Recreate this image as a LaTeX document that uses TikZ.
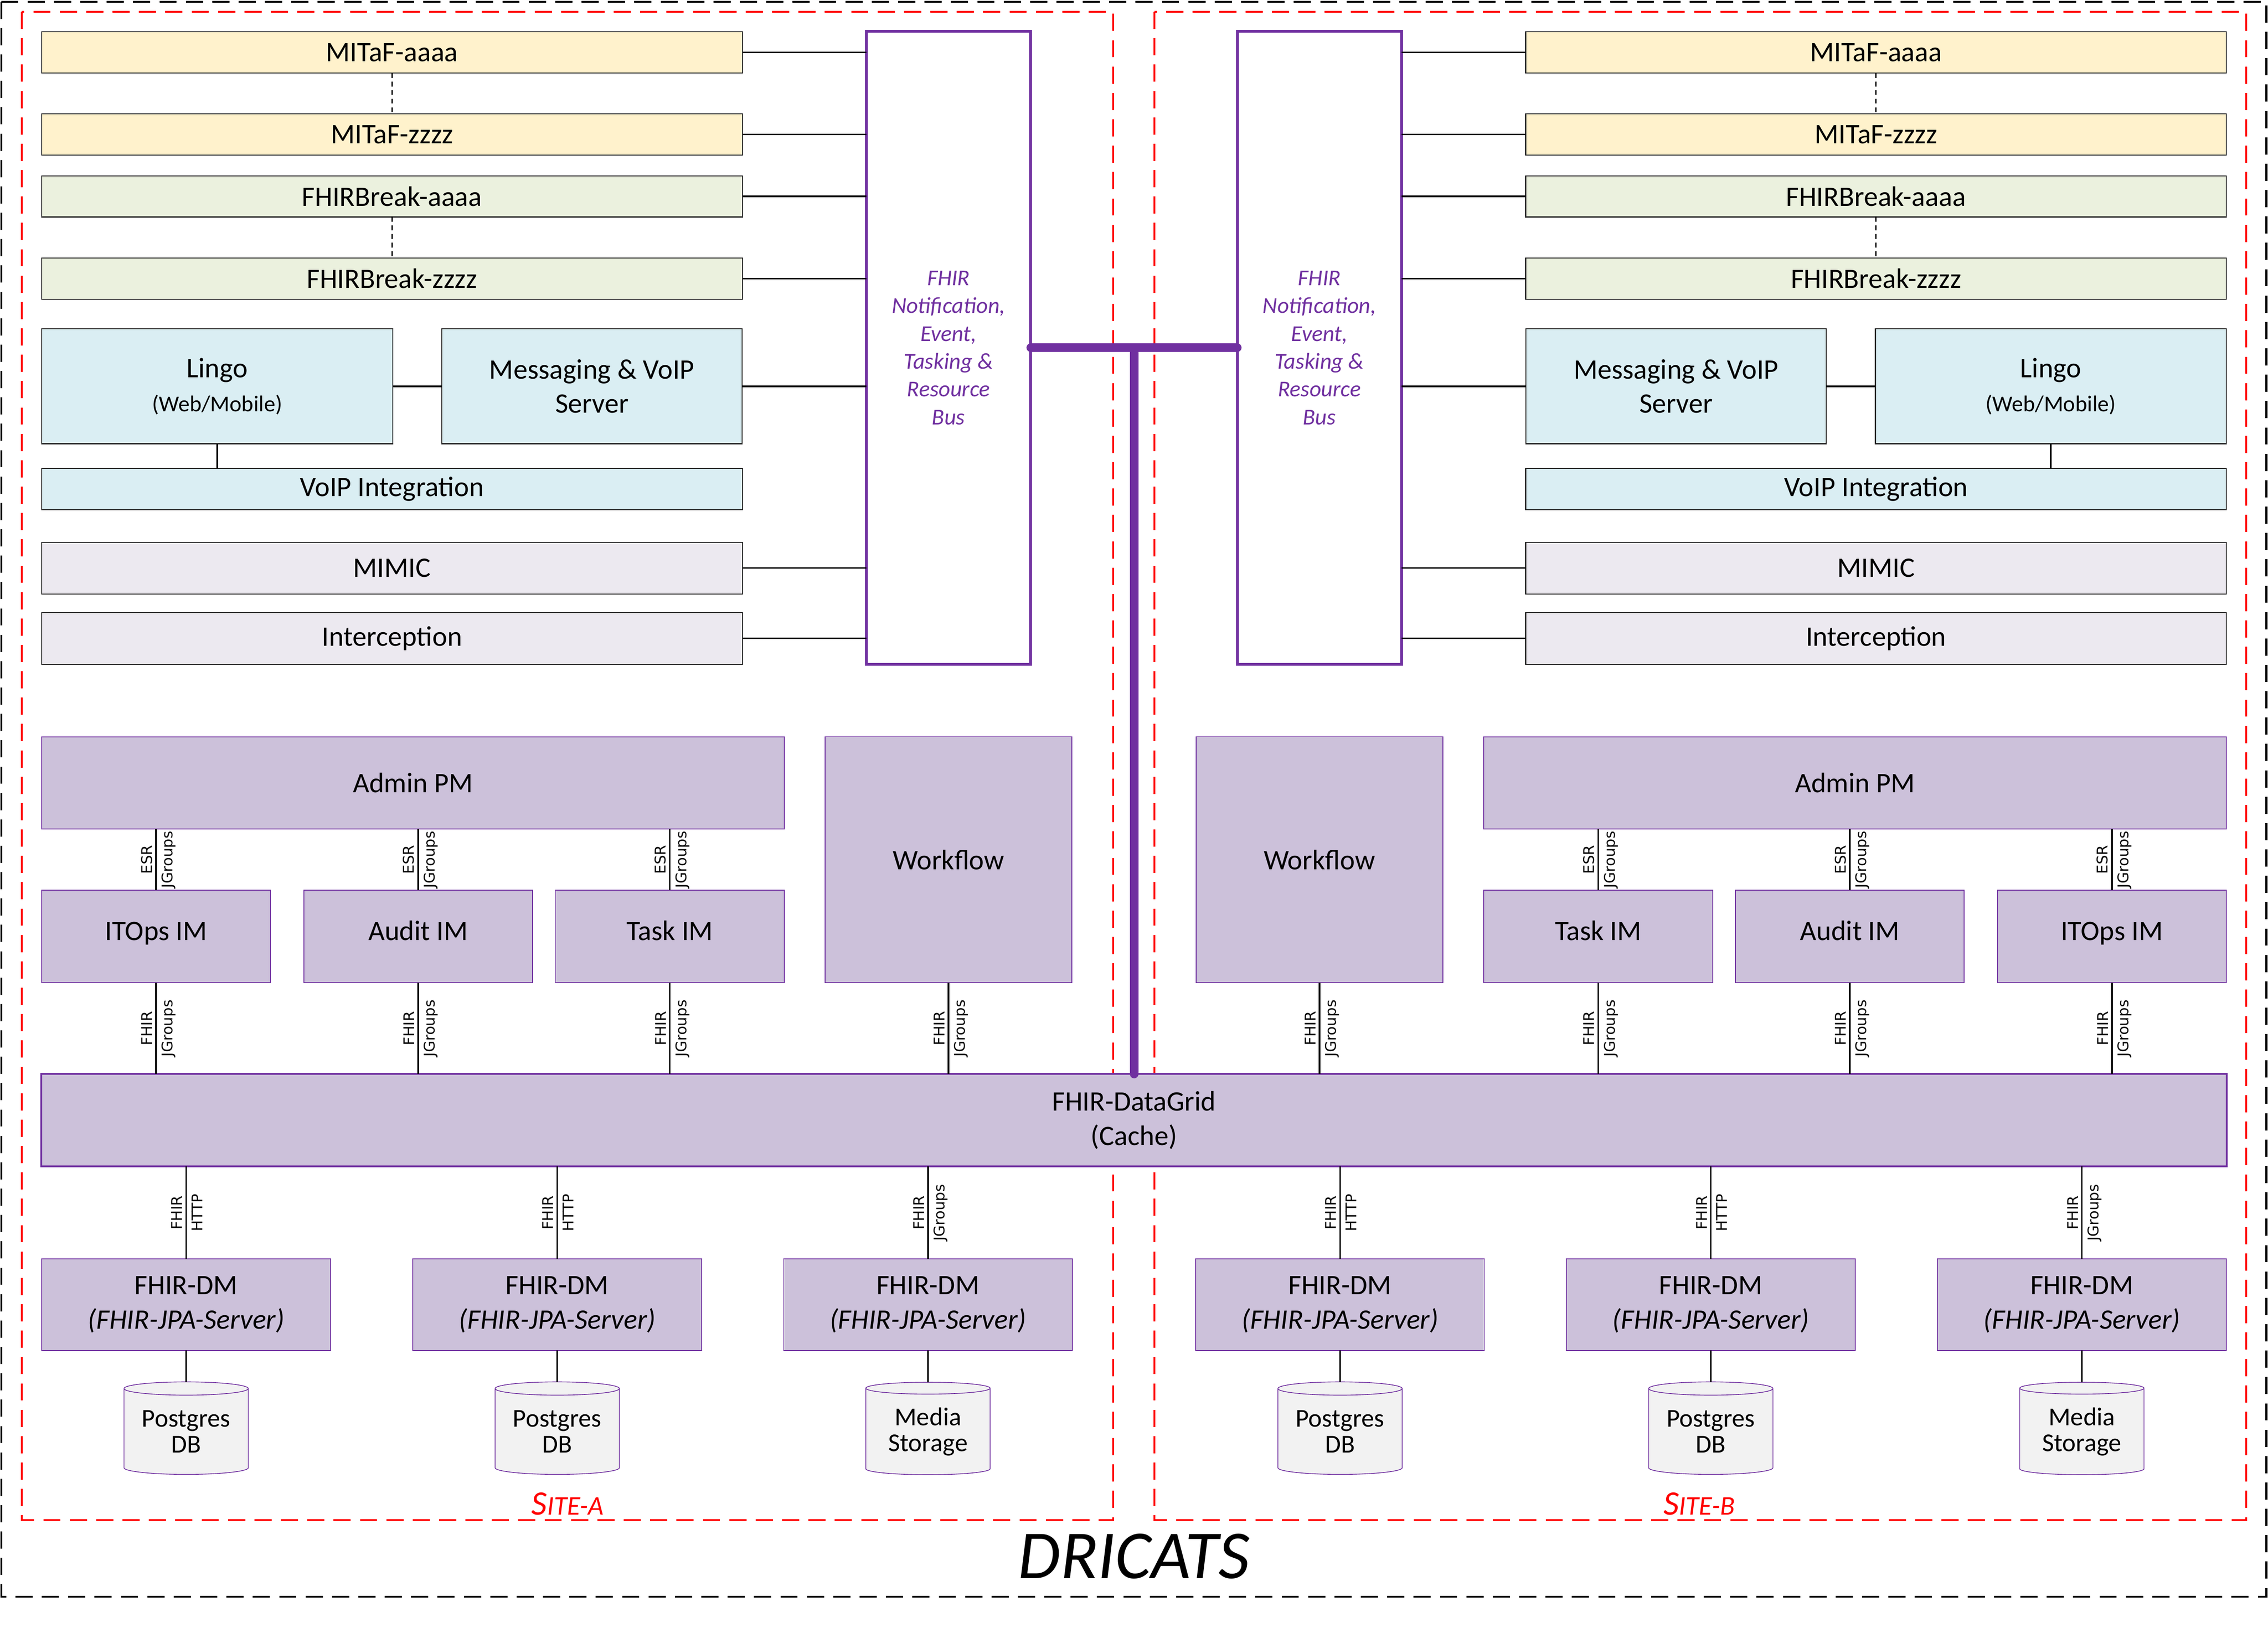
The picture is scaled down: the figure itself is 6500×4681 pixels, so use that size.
\documentclass[tikz,border=0pt]{standalone}
\usepackage{fontspec}
\setmainfont{Carlito}
\newfontfamily\lblfont{DejaVu Sans}
\usetikzlibrary{shapes}
\definecolor{mitafcol}{HTML}{FFF2CC}
\definecolor{breakcol}{HTML}{EBF1DE}
\definecolor{voipcol}{HTML}{DAEEF3}
\definecolor{mimiccol}{HTML}{ECE9F0}
\definecolor{pmcol}{HTML}{CCC1DA}
\definecolor{buscol}{HTML}{7030A0}
\definecolor{dbcol}{HTML}{F2F2F2}
\newcommand{\boxfont}{\fontsize{23}{28}\selectfont}
\newcommand{\busfont}{\fontsize{18.5}{22.7}\selectfont}
\newcommand{\lblsize}{\fontsize{12}{14}\selectfont}

\begin{document}
\begin{tikzpicture}[x=0.01cm,y=-0.01cm]
\tikzstyle{box}=[rectangle, inner sep=0pt, outer sep=0pt, align=center, font=\boxfont]
\tikzstyle{wide}=[box, draw=black!85, line width=0.8pt, minimum width=20.07cm]
\tikzstyle{mitaf}=[wide, fill=mitafcol, minimum height=1.18cm]
\tikzstyle{fbreak}=[wide, fill=breakcol, minimum height=1.18cm]
\tikzstyle{voipbox}=[box, draw=black!85, line width=0.8pt, fill=voipcol]
\tikzstyle{mimicbox}=[wide, fill=mimiccol, minimum height=1.48cm]
\tikzstyle{pm}=[box, draw=buscol, line width=0.7pt, fill=pmcol]
\tikzstyle{im}=[pm, minimum width=6.55cm, minimum height=2.65cm, text height=1.3ex, text depth=0pt]
\tikzstyle{dm}=[pm, minimum width=8.27cm, minimum height=2.62cm]
\tikzstyle{bus}=[box, draw=buscol, line width=2.2pt, fill=white, text=buscol,
  font=\busfont\itshape, minimum width=4.71cm, minimum height=18.14cm]
\tikzstyle{db}=[cylinder, shape border rotate=90, aspect=0.15, draw=buscol,
  line width=0.6pt, fill=dbcol, minimum width=3.56cm, minimum height=2.65cm,
  inner sep=0pt, outer sep=0pt, align=center, font=\fontsize{21}{21}\selectfont]
\tikzstyle{link}=[draw=black, line width=1.3pt]
\tikzstyle{dots}=[draw=black, line width=1pt, dash pattern=on 4pt off 3pt]
\tikzstyle{lbll}=[midway, rotate=90, anchor=south, inner sep=2.5pt, font=\lblfont\lblsize]
\tikzstyle{lblr}=[midway, rotate=90, anchor=north, inner sep=4pt, font=\lblfont\lblsize]
\tikzstyle{site}=[draw=red, line width=1.5pt, dash pattern=on 14pt off 7.5pt]
\tikzstyle{outer}=[draw=black, line width=1.7pt, dash pattern=on 14pt off 7.5pt]
\tikzstyle{sitelbl}=[anchor=base, text=red, font=\itshape]
\tikzstyle{busline}=[draw=buscol, line width=7pt, line cap=round]

\useasboundingbox (0,0) rectangle (6500,4681);
\draw[outer] (4,5) rectangle (6495,4577);
\draw[site] (62,34) rectangle (3190,4357);
\draw[site] (3309,34) rectangle (6437,4357);

% Site-A
\node[mitaf] (mitafa) at (1123.5,150) {MITaF-aaaa};
\node[mitaf] (mitafz) at (1123.5,385.5) {MITaF-zzzz};
\node[fbreak] (fbreaka) at (1123.5,563) {FHIRBreak-aaaa};
\node[fbreak] (fbreakz) at (1123.5,799) {FHIRBreak-zzzz};
\node[voipbox, minimum width=10.05cm, minimum height=3.29cm] (lingo) at (622.5,1107.5)
  {Lingo\\{\busfont (Web/Mobile)}};
\node[voipbox, minimum width=8.61cm, minimum height=3.29cm] (msg) at (1696.5,1107.5)
  {Messaging \& VoIP\\Server};
\node[voipbox, minimum width=20.07cm, minimum height=1.18cm] (voipint) at (1123.5,1402) {VoIP Integration};
\node[mimicbox] (mimic) at (1123.5,1628.5) {MIMIC};
\node[mimicbox] (intercept) at (1123.5,1830) {Interception};
\node[bus] (busa) at (2718.5,997) {FHIR\\Notification,\\Event,\\Tasking \&\\Resource\\Bus};
\node[pm, minimum width=21.27cm, minimum height=2.64cm] (admina) at (1183.5,2244) {Admin PM};
\node[pm, minimum width=7.07cm, minimum height=7.05cm] (workfla) at (2718.5,2464.5) {Workflow};
\node[im] (itopsa) at (447.5,2684.5) {ITOps IM};
\node[im] (audita) at (1198.5,2684.5) {Audit IM};
\node[im] (taska) at (1919.5,2684.5) {Task IM};
\node[dm] (dma1) at (533.5,3740) {FHIR-DM\\\textit{(FHIR-JPA-Server)}};
\node[dm] (dma2) at (1597,3740) {FHIR-DM\\\textit{(FHIR-JPA-Server)}};
\node[dm] (dma3) at (2659.5,3740) {FHIR-DM\\\textit{(FHIR-JPA-Server)}};
\node[db] (dba1) at (533.5,4104) {Postgres\\DB};
\node[db] (dba2) at (1597,4104) {Postgres\\DB};
\node[db] (dba3) at (2659.5,4104) {Media\\Storage};

% Site-B
\node[mitaf] (mitafb) at (5376.5,150) {MITaF-aaaa};
\node[mitaf] (mitafy) at (5376.5,385.5) {MITaF-zzzz};
\node[fbreak] (fbreakb) at (5376.5,563) {FHIRBreak-aaaa};
\node[fbreak] (fbreaky) at (5376.5,799) {FHIRBreak-zzzz};
\node[voipbox, minimum width=8.61cm, minimum height=3.29cm] (msgb) at (4803.5,1107.5)
  {Messaging \& VoIP\\Server};
\node[voipbox, minimum width=10.05cm, minimum height=3.29cm] (lingob) at (5877.5,1107.5)
  {Lingo\\{\busfont (Web/Mobile)}};
\node[voipbox, minimum width=20.07cm, minimum height=1.18cm] (voipintb) at (5376.5,1402) {VoIP Integration};
\node[mimicbox] (mimicb) at (5376.5,1628.5) {MIMIC};
\node[mimicbox] (interceptb) at (5376.5,1830) {Interception};
\node[bus] (busb) at (3781.5,997) {FHIR\\Notification,\\Event,\\Tasking \&\\Resource\\Bus};
\node[pm, minimum width=21.27cm, minimum height=2.64cm] (adminb) at (5316.5,2244) {Admin PM};
\node[pm, minimum width=7.07cm, minimum height=7.05cm] (workflb) at (3781.5,2464.5) {Workflow};
\node[im] (taskb) at (4580.5,2684.5) {Task IM};
\node[im] (auditb) at (5301.5,2684.5) {Audit IM};
\node[im] (itopsb) at (6052.5,2684.5) {ITOps IM};
\node[dm] (dmb1) at (3840.5,3740) {FHIR-DM\\\textit{(FHIR-JPA-Server)}};
\node[dm] (dmb2) at (4903,3740) {FHIR-DM\\\textit{(FHIR-JPA-Server)}};
\node[dm] (dmb3) at (5966.5,3740) {FHIR-DM\\\textit{(FHIR-JPA-Server)}};
\node[db] (dbb1) at (3840.5,4104) {Postgres\\DB};
\node[db] (dbb2) at (4903,4104) {Postgres\\DB};
\node[db] (dbb3) at (5966.5,4104) {Media\\Storage};

\node[pm, draw=buscol, line width=1.5pt, minimum width=62.6cm, minimum height=2.65cm] (grid)
  at (3250,3211.5) {FHIR-DataGrid\\(Cache)};

% links Site-A
\draw[dots] (mitafa.south) -- (mitafz.north);
\draw[dots] (fbreaka.south) -- (fbreakz.north);
\draw[link] (mitafa.east) -- (mitafa.east -| busa.west);
\draw[link] (mitafz.east) -- (mitafz.east -| busa.west);
\draw[link] (fbreaka.east) -- (fbreaka.east -| busa.west);
\draw[link] (fbreakz.east) -- (fbreakz.east -| busa.west);
\draw[link] (msg.east) -- (msg.east -| busa.west);
\draw[link] (mimic.east) -- (mimic.east -| busa.west);
\draw[link] (intercept.east) -- (intercept.east -| busa.west);
\draw[link] (lingo.east) -- (msg.west);
\draw[link] (lingo.south) -- (lingo.south |- voipint.north);
\draw[link] (admina.south -| itopsa.north) -- (itopsa.north) node[lbll]{ESR} node[lblr]{JGroups};
\draw[link] (admina.south -| audita.north) -- (audita.north) node[lbll]{ESR} node[lblr]{JGroups};
\draw[link] (admina.south -| taska.north) -- (taska.north) node[lbll]{ESR} node[lblr]{JGroups};
\draw[link] (itopsa.south) -- (itopsa.south |- grid.north) node[lbll]{FHIR} node[lblr]{JGroups};
\draw[link] (audita.south) -- (audita.south |- grid.north) node[lbll]{FHIR} node[lblr]{JGroups};
\draw[link] (taska.south) -- (taska.south |- grid.north) node[lbll]{FHIR} node[lblr]{JGroups};
\draw[link] (workfla.south) -- (workfla.south |- grid.north) node[lbll]{FHIR} node[lblr]{JGroups};
\draw[link] (grid.south -| dma1.north) -- (dma1.north) node[lbll]{FHIR} node[lblr]{HTTP};
\draw[link] (grid.south -| dma2.north) -- (dma2.north) node[lbll]{FHIR} node[lblr]{HTTP};
\draw[link] (grid.south -| dma3.north) -- (dma3.north) node[lbll]{FHIR} node[lblr]{JGroups};
\draw[link] (dma1.south) -- (dba1.north);
\draw[link] (dma2.south) -- (dba2.north);
\draw[link] (dma3.south) -- (dba3.north);

% links Site-B
\draw[dots] (mitafb.south) -- (mitafy.north);
\draw[dots] (fbreakb.south) -- (fbreaky.north);
\draw[link] (busb.east |- mitafb.west) -- (mitafb.west);
\draw[link] (busb.east |- mitafy.west) -- (mitafy.west);
\draw[link] (busb.east |- fbreakb.west) -- (fbreakb.west);
\draw[link] (busb.east |- fbreaky.west) -- (fbreaky.west);
\draw[link] (busb.east |- msgb.west) -- (msgb.west);
\draw[link] (busb.east |- mimicb.west) -- (mimicb.west);
\draw[link] (busb.east |- interceptb.west) -- (interceptb.west);
\draw[link] (msgb.east) -- (lingob.west);
\draw[link] (lingob.south) -- (lingob.south |- voipintb.north);
\draw[link] (adminb.south -| taskb.north) -- (taskb.north) node[lbll]{ESR} node[lblr]{JGroups};
\draw[link] (adminb.south -| auditb.north) -- (auditb.north) node[lbll]{ESR} node[lblr]{JGroups};
\draw[link] (adminb.south -| itopsb.north) -- (itopsb.north) node[lbll]{ESR} node[lblr]{JGroups};
\draw[link] (workflb.south) -- (workflb.south |- grid.north) node[lbll]{FHIR} node[lblr]{JGroups};
\draw[link] (taskb.south) -- (taskb.south |- grid.north) node[lbll]{FHIR} node[lblr]{JGroups};
\draw[link] (auditb.south) -- (auditb.south |- grid.north) node[lbll]{FHIR} node[lblr]{JGroups};
\draw[link] (itopsb.south) -- (itopsb.south |- grid.north) node[lbll]{FHIR} node[lblr]{JGroups};
\draw[link] (grid.south -| dmb1.north) -- (dmb1.north) node[lbll]{FHIR} node[lblr]{HTTP};
\draw[link] (grid.south -| dmb2.north) -- (dmb2.north) node[lbll]{FHIR} node[lblr]{HTTP};
\draw[link] (grid.south -| dmb3.north) -- (dmb3.north) node[lbll]{FHIR} node[lblr]{JGroups};
\draw[link] (dmb1.south) -- (dbb1.north);
\draw[link] (dmb2.south) -- (dbb2.north);
\draw[link] (dmb3.south) -- (dbb3.north);

\draw[busline] (busa.east) -- (busb.west);
\draw[busline] (busa.east -| grid.north) -- (grid.north);

\node[sitelbl] (sitea) at (1627,4343) {{\fontsize{28}{30}\selectfont S}{\fontsize{22}{24}\selectfont ITE-A}};
\node[sitelbl] (siteb) at (4870,4343) {{\fontsize{28}{30}\selectfont S}{\fontsize{22}{24}\selectfont ITE-B}};
\node[anchor=base, font=\fontsize{56}{60}\selectfont\itshape] (title) at (3250,4524) {DRICATS};
\end{tikzpicture}
\end{document}
